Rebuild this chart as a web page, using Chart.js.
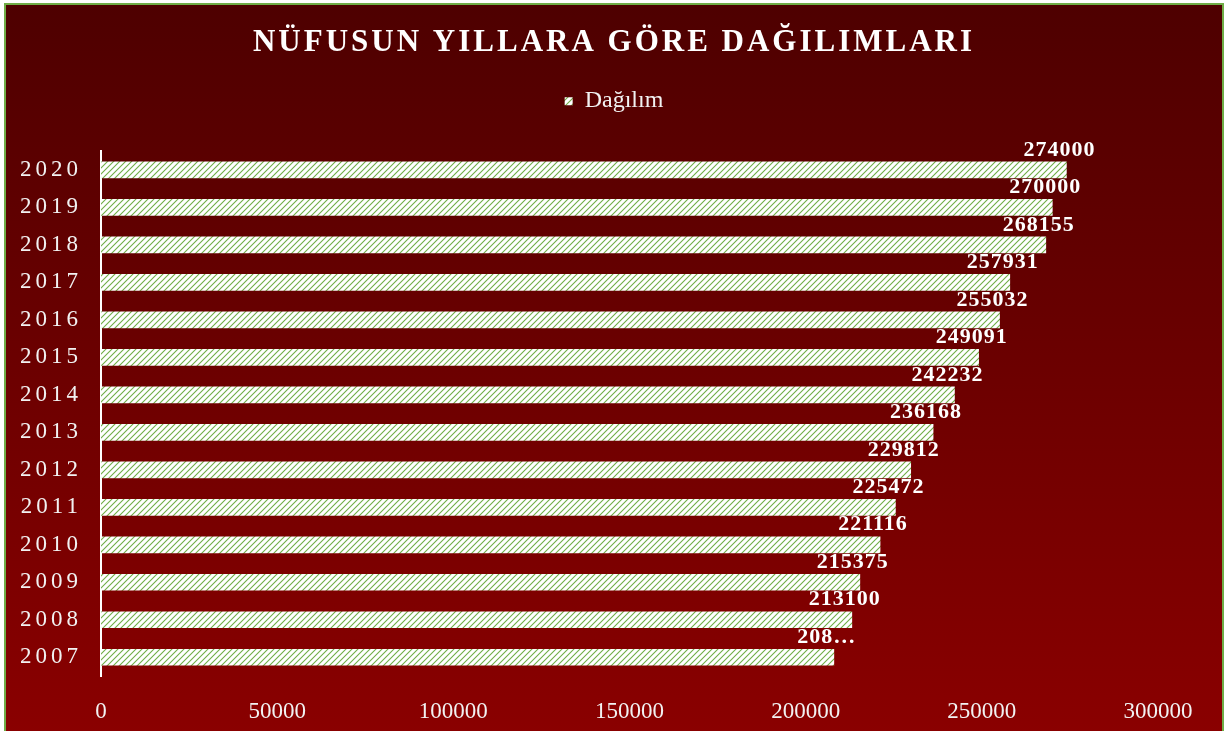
<!DOCTYPE html>
<html>
<head>
<meta charset="utf-8">
<script src="https://cdn.jsdelivr.net/npm/chart.js@4.4.1/dist/chart.umd.min.js"></script>
<style>
  html, body { margin: 0; padding: 0; background: #fff; overflow: hidden; }
  #box {
    position: absolute; left: 4px; top: 3px;
    width: 1220px; height: 732px; box-sizing: border-box;
    border: 2px solid #70ad47;
    background: linear-gradient(180deg, #4e0000 0%, #8a0000 100%);
  }
  #wrap { position: relative; width: 1216px; height: 728px; }
</style>
</head>
<body>
<div id="box"><div id="wrap"><canvas id="popChart"></canvas></div></div>
<script>
var years = ['2007', '2008', '2009', '2010', '2011', '2012', '2013', '2014', '2015', '2016', '2017', '2018', '2019', '2020'];
var population = [208000, 213100, 215375, 221116, 225472, 229812, 236168, 242232, 249091, 255032, 257931, 268155, 270000, 274000];
// the 2007 label is cut off in the original
var barTexts = ['208…', '213100', '215375', '221116', '225472', '229812', '236168', '242232', '249091', '255032', '257931', '268155', '270000', '274000'];
var xTicks = [0, 50000, 100000, 150000, 200000, 250000, 300000];

var SERIF = "'Liberation Serif', 'Times New Roman', serif";

function stripes() {
    var c = document.createElement('canvas');
    c.width = 6; c.height = 6;
    var g = c.getContext('2d');
    g.fillStyle = '#ffffff';
    g.fillRect(0, 0, 6, 6);
    g.strokeStyle = '#70ad47';
    g.lineWidth = 1.1;
    g.beginPath();
    g.moveTo(0, 6); g.lineTo(6, 0);
    g.moveTo(-1, 1); g.lineTo(1, -1);
    g.moveTo(5, 7); g.lineTo(7, 5);
    g.stroke();
    return g.createPattern(c, 'repeat');
}

// wrap a draw method so its text gets letter spacing
function spaced(obj, name, px) {
    if (!obj || obj['_sp_' + name]) return;
    var orig = obj[name];
    obj[name] = function () {
        var c = this.ctx;
        c.save();
        c.letterSpacing = px;
        orig.apply(this, arguments);
        c.restore();
    };
    obj['_sp_' + name] = true;
}

var spacingPlugin = {
    id: 'spacing',
    beforeDraw: function (chart) {
        spaced(chart.scales.y, 'drawLabels', '4px');
        spaced(chart.titleBlock, 'draw', '3px');
    }
};

var barLabels = {
    id: 'barLabels',
    afterDatasetsDraw: function (chart) {
        var ctx = chart.ctx;
        var meta = chart.getDatasetMeta(0);
        ctx.save();
        ctx.letterSpacing = '1px';
        ctx.font = 'bold 22px ' + SERIF;
        ctx.fillStyle = '#ffffff';
        ctx.textAlign = 'center';
        ctx.textBaseline = 'middle';
        meta.data.forEach(function (bar, i) {
            ctx.fillText(barTexts[i], bar.x - 7, bar.y - 20);
        });
        ctx.restore();
    }
};

function noPad(s) {
    s.paddingLeft = 0; s.paddingRight = 0;
    s.paddingTop = 0; s.paddingBottom = 0;
}

// empty axes used only to reserve space
function spacer(axis, pos, size) {
    return {
        type: 'linear',
        axis: axis,
        position: pos,
        afterFit: function (s) {
            if (pos === 'top') s.height = size; else s.width = size;
            noPad(s);
        },
        grid: { display: false },
        border: { display: false },
        ticks: { display: false }
    };
}

var ctx = document.getElementById('popChart').getContext('2d');
var popChart = new Chart(ctx, {
    type: 'bar',
    data: {
        labels: years,
        datasets: [{
            label: 'Dağılım',
            data: population,
            xAxisID: 'x',
            yAxisID: 'y',
            backgroundColor: stripes(),
            borderWidth: 0,
            barThickness: 16
        }]
    },
    options: {
        indexAxis: 'y',
        responsive: true,
        maintainAspectRatio: false,
        animation: false,
        layout: { padding: 0 },
        scales: {
            x: {
                type: 'linear',
                min: 0,
                max: 300000,
                afterBuildTicks: function (s) {
                    s.ticks = xTicks.map(function (v) { return { value: v }; });
                },
                afterFit: function (s) { s.height = 57; noPad(s); },
                grid: { display: false },
                border: { display: false },
                ticks: {
                    color: '#f2f2f2',
                    padding: 14,
                    maxRotation: 0,
                    font: { family: SERIF, size: 23 },
                    callback: function (v) { return String(v); }
                }
            },
            y: {
                type: 'category',
                reverse: true,
                afterFit: function (s) { s.width = 95; noPad(s); },
                grid: { display: false, drawTicks: false },
                border: { display: true, color: '#ffffff', width: 2 },
                ticks: {
                    color: '#f2f2f2',
                    padding: 19,
                    font: { family: SERIF, size: 23 }
                }
            },
            topGap: spacer('x', 'top', 28),
            rightGap: spacer('y', 'right', 64)
        },
        plugins: {
            title: {
                display: true,
                text: 'NÜFUSUN YILLARA GÖRE DAĞILIMLARI',
                color: '#ffffff',
                font: { family: SERIF, size: 31, weight: 'bold' },
                padding: { top: 19, bottom: 18 }
            },
            legend: {
                display: true,
                position: 'top',
                labels: {
                    color: '#f2f2f2',
                    boxWidth: 8,
                    boxHeight: 8,
                    font: { family: SERIF, size: 24 }
                }
            },
            tooltip: { enabled: false }
        }
    },
    plugins: [spacingPlugin, barLabels]
});
</script>
</body>
</html>
